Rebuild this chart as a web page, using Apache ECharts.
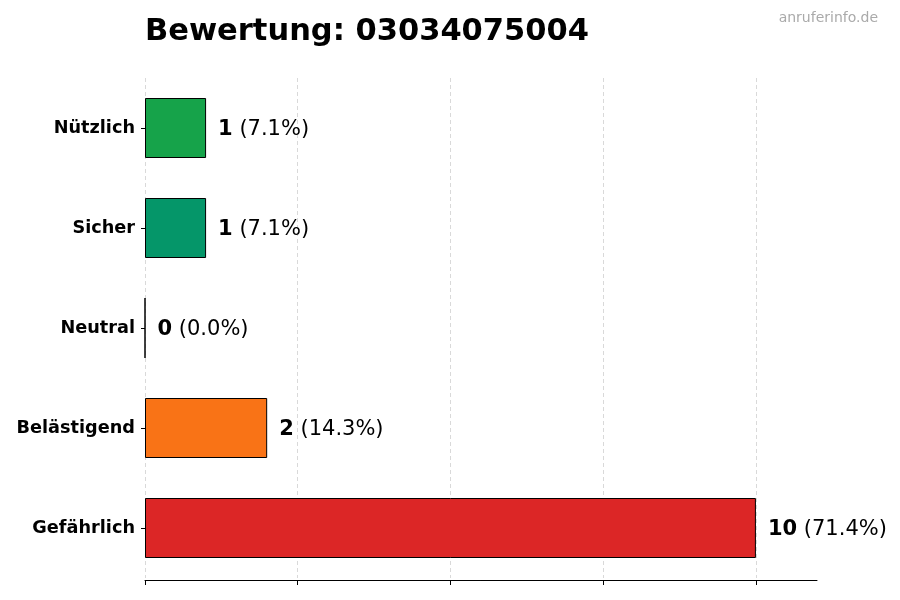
<!DOCTYPE html>
<html>
<head>
<meta charset="utf-8">
<script src="https://cdn.jsdelivr.net/npm/echarts@6/dist/echarts.min.js"></script>
<style>html,body{margin:0;padding:0;background:#fff}#c{width:900px;height:600px}</style>
</head>
<body>
<div id="c"></div>
<script>
const categories = ['Gefährlich', 'Belästigend', 'Neutral', 'Sicher', 'Nützlich'];
const counts = [10, 2, 0, 1, 1];
const percents = ['71.4%', '14.3%', '0.0%', '7.1%', '7.1%'];
const colors = ['#dc2626', '#f97316', '#9ca3af', '#059669', '#16a34a'];
const tickValues = [0, 2.5, 5, 7.5, 10];

const chart = echarts.init(document.getElementById('c'));
chart.setOption({
  animation: false,
  textStyle: { fontFamily: 'DejaVu Sans' },
  title: [{
    text: 'Bewertung: 03034075004',
    left: 140, top: 12,
    textStyle: { fontSize: 30.5, fontWeight: 'bold', color: '#000', fontFamily: 'DejaVu Sans' }
  }, {
    text: 'anruferinfo.de',
    right: 17, top: 6,
    textStyle: { fontSize: 14, fontWeight: 'normal', color: '#aaaaaa', fontFamily: 'DejaVu Sans' }
  }],
  grid: { left: 145, right: 83, top: 78, bottom: 22 },
  xAxis: {
    type: 'value', min: 0, max: 11, offset: 2,
    axisLine: { show: true, lineStyle: { color: '#000', width: 1 } },
    axisTick: { show: true, length: 5, customValues: tickValues, lineStyle: { color: '#000' } },
    axisLabel: { show: false },
    splitLine: { show: true, lineStyle: { type: [4, 3], color: '#d9d9d9', width: 1 } }
  },
  yAxis: {
    type: 'category', data: categories,
    axisLine: { show: false },
    axisTick: { show: true, length: 4, alignWithLabel: true, lineStyle: { color: '#000' } },
    axisLabel: { fontSize: 17.7, fontWeight: 'bold', color: '#000', margin: 10, padding: [3, 0, 0, 0], fontFamily: 'DejaVu Sans' }
  },
  series: [{
    type: 'bar',
    barWidth: '60%',
    data: counts.map((v, i) => ({ value: v, itemStyle: { color: colors[i] } })),
    itemStyle: { borderColor: '#000', borderWidth: 1 },
    label: {
      show: true, position: 'right', distance: 12, offset: [0, 1.5],
      formatter: p => '{b|' + counts[p.dataIndex] + '}{n| (' + percents[p.dataIndex] + ')}',
      rich: {
        b: { fontSize: 21, fontWeight: 'bold', color: '#000', fontFamily: 'DejaVu Sans' },
        n: { fontSize: 21, color: '#000', fontFamily: 'DejaVu Sans' }
      }
    }
  }]
});
</script>
</body>
</html>
